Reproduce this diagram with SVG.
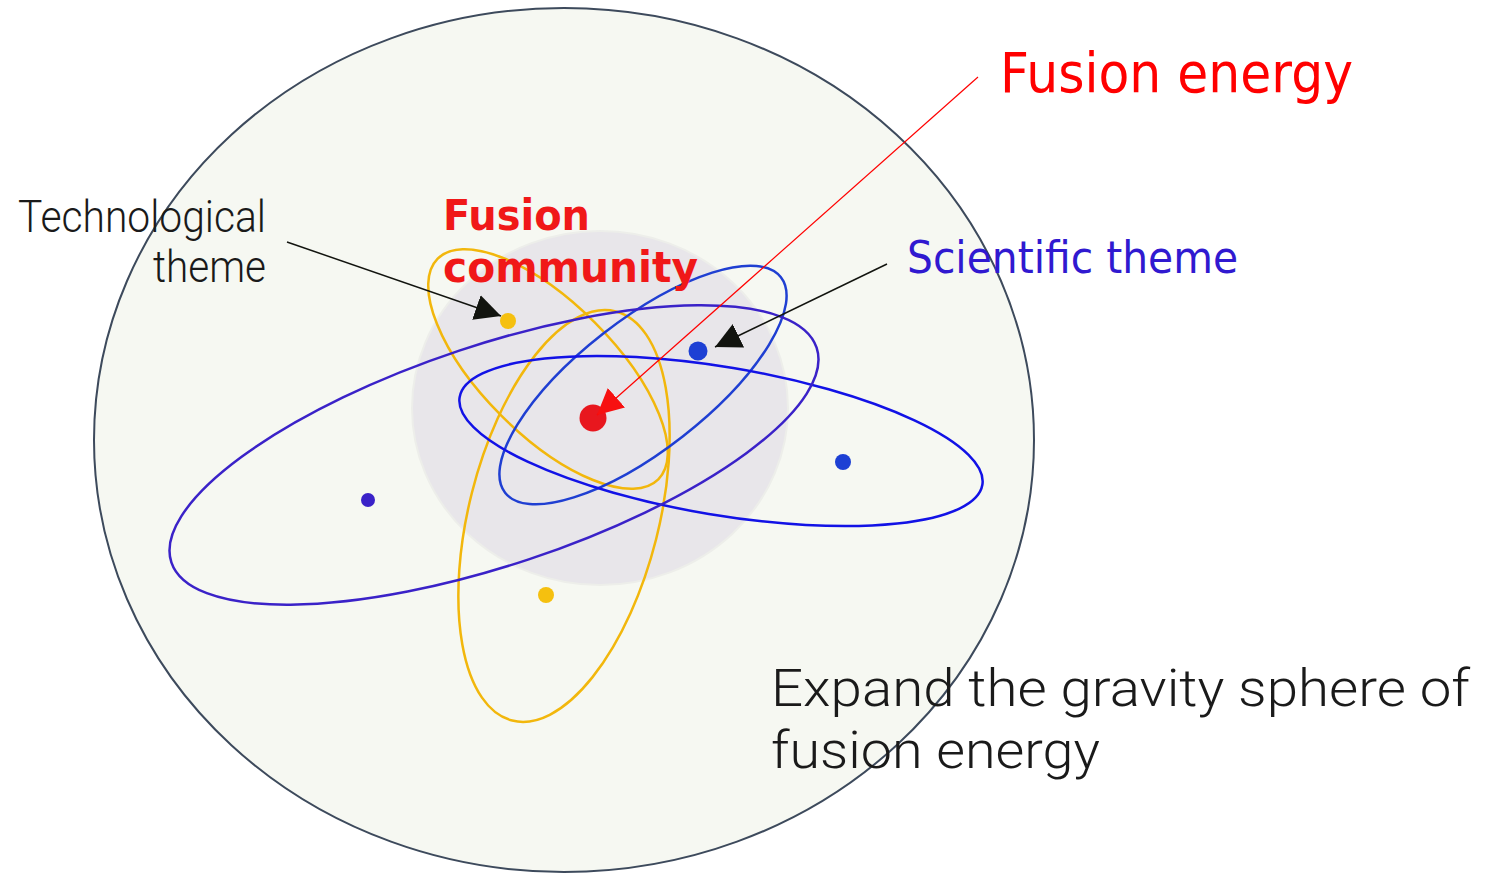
<svg xmlns="http://www.w3.org/2000/svg" width="1486" height="874" viewBox="0 0 1486 874">
<style>
.orb{fill:none;stroke-width:2.5}
.yel{stroke:#f2b70c}
.blu{stroke:#1f3fd2}
.pblu{stroke:#1212e6}
.pur{stroke:#3a22c8}
.thin{font-family:Roboto,"Liberation Sans",sans-serif;font-weight:300;fill:#1a1a1a}
.sci{font-family:"DejaVu Sans","Liberation Sans",sans-serif;fill:#3019d0}
.fe{font-family:"DejaVu Sans","Liberation Sans",sans-serif;fill:#ff0000}
.fc{font-family:"DejaVu Sans","Liberation Sans",sans-serif;font-weight:bold;fill:#f01818}
</style>
<defs>
<marker id="ahBlack" markerUnits="userSpaceOnUse" markerWidth="28" markerHeight="28" refX="26" refY="13" orient="auto">
<path d="M0,0 L26,13 L0,26 Z" fill="#12140f"/>
</marker>
<marker id="ahRed" markerUnits="userSpaceOnUse" markerWidth="28" markerHeight="28" refX="26" refY="13" orient="auto">
<path d="M0,0 L26,13 L0,26 Z" fill="#f71010"/>
</marker>
</defs>
<rect width="1486" height="874" fill="#ffffff"/>
<g id="sphere">
<ellipse cx="564" cy="440" rx="470" ry="432" fill="#f6f8f2" stroke="#3d4a5c" stroke-width="2"/>
</g>
<g id="community-core">
<ellipse cx="600" cy="408" rx="188" ry="177" fill="#e8e6ea" stroke="#edeeea" stroke-width="2"/>
</g>
<g id="orbits">
<ellipse class="orb yel" cx="548" cy="369" rx="156" ry="66" transform="rotate(45 548 369)"/>
<ellipse class="orb yel" cx="564" cy="516" rx="95" ry="211" transform="rotate(14.2 564 516)"/>
<ellipse class="orb blu" cx="643" cy="385" rx="175" ry="65" transform="rotate(-38 643 385)"/>
<ellipse class="orb pblu" cx="721" cy="441" rx="265" ry="74" transform="rotate(9.5 721 441)"/>
<ellipse class="orb pur" cx="494" cy="455" rx="340" ry="110" transform="rotate(-18.4 494 455)"/>
</g>
<g id="dots">
<circle cx="508" cy="321" r="8" fill="#f5c00f"/>
<circle cx="546" cy="595" r="8" fill="#f5c00f"/>
<circle cx="698" cy="351" r="9.5" fill="#1d40d4"/>
<circle cx="843" cy="462" r="8" fill="#1d40d4"/>
<circle cx="368" cy="500" r="7" fill="#3a22c8"/>
<circle cx="593" cy="418" r="13.5" fill="#e8171e"/>
</g>
<g id="connectors">
<line x1="978" y1="77" x2="597" y2="415" stroke="#ff0000" stroke-width="1.2" marker-end="url(#ahRed)"/>
<line x1="287" y1="242" x2="501" y2="316" stroke="#12140f" stroke-width="1.5" marker-end="url(#ahBlack)"/>
<line x1="887" y1="264" x2="715" y2="347" stroke="#12140f" stroke-width="1.5" marker-end="url(#ahBlack)"/>
</g>
<g id="label-tech">
<text class="thin" x="266" y="232" font-size="44" text-anchor="end" textLength="248" lengthAdjust="spacingAndGlyphs">Technological</text>
<text class="thin" x="266" y="282" font-size="44" text-anchor="end" textLength="113" lengthAdjust="spacingAndGlyphs">theme</text>
</g>
<g id="label-community">
<text class="fc" x="443" y="230" font-size="43" textLength="147" lengthAdjust="spacingAndGlyphs">Fusion</text>
<text class="fc" x="443" y="282" font-size="43" textLength="255" lengthAdjust="spacingAndGlyphs">community</text>
</g>
<g id="label-scientific">
<text class="sci" x="907" y="273" font-size="44" textLength="331" lengthAdjust="spacingAndGlyphs">Scientific theme</text>
</g>
<g id="label-fusion-energy">
<text class="fe" x="1000" y="92" font-size="56" textLength="353" lengthAdjust="spacingAndGlyphs">Fusion energy</text>
</g>
<g id="label-expand">
<text class="thin" x="771" y="706" font-size="52" textLength="699" lengthAdjust="spacingAndGlyphs">Expand the gravity sphere of</text>
<text class="thin" x="771" y="768" font-size="52" textLength="329" lengthAdjust="spacingAndGlyphs">fusion energy</text>
</g>
</svg>
